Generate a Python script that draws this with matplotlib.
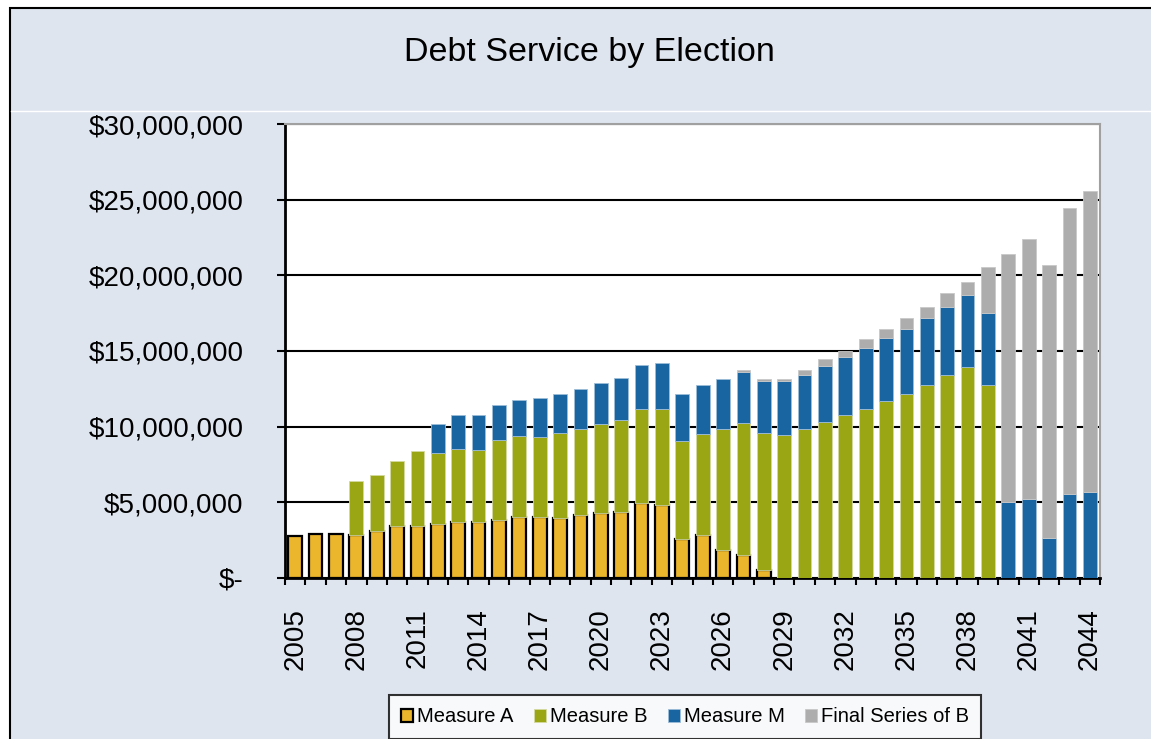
"""Debt Service by Election: stacked annual debt service, 2005-2044."""
import numpy as np
import matplotlib
matplotlib.use("Agg")
import matplotlib.pyplot as plt
from matplotlib.patches import Rectangle
from matplotlib.lines import Line2D
from matplotlib.ticker import FuncFormatter

plt.rcParams["font.family"] = ["Liberation Sans", "DejaVu Sans"]

years = list(range(2005, 2045))

# annual debt service, $ millions
measure_a = [2.78, 2.91, 2.91, 2.84, 3.10, 3.44, 3.44, 3.57, 3.70, 3.70,
             3.85, 4.01, 4.01, 3.98, 4.13, 4.28, 4.38, 4.98, 4.85, 2.56,
             2.82, 1.85, 1.52, 0.53, 0, 0, 0, 0, 0, 0,
             0, 0, 0, 0, 0, 0, 0, 0, 0, 0]
measure_b = [0, 0, 0, 3.57, 3.73, 4.27, 4.98, 4.67, 4.80, 4.76,
             5.27, 5.38, 5.29, 5.60, 5.73, 5.88, 6.04, 6.17, 6.30, 6.51,
             6.70, 8.02, 8.70, 9.03, 9.44, 9.87, 10.30, 10.75, 11.19, 11.72,
             12.16, 12.74, 13.40, 13.97, 12.74, 0, 0, 0, 0, 0]
measure_m = [0, 0, 0, 0, 0, 0, 0, 1.92, 2.25, 2.29,
             2.33, 2.37, 2.60, 2.60, 2.61, 2.75, 2.78, 2.91, 3.04, 3.11,
             3.24, 3.30, 3.40, 3.48, 3.60, 3.57, 3.72, 3.86, 3.99, 4.16,
             4.30, 4.46, 4.53, 4.71, 4.75, 5.00, 5.22, 2.66, 5.53, 5.66]
final_b = [0, 0, 0, 0, 0, 0, 0, 0, 0, 0,
           0, 0, 0, 0, 0, 0, 0, 0, 0, 0,
           0, 0, 0.13, 0.13, 0.13, 0.33, 0.44, 0.41, 0.60, 0.60,
           0.74, 0.73, 0.90, 0.86, 3.05, 16.39, 17.19, 18.01, 18.90, 19.92]

series = [
    ("Measure A", measure_a, "#ebb52c", "black", 1.6),
    ("Measure B", measure_b, "#9aa613", "#d4d9a0", 0.6),
    ("Measure M", measure_m, "#1865a1", "#9dbdd8", 0.6),
    ("Final Series of B", final_b, "#adadad", "#c8c8c8", 0.6),
]

W, H = 1151, 739
BG = "#dfe5ef"

fig = plt.figure(figsize=(W / 100, H / 100), dpi=100, facecolor="white")
fig.add_artist(Rectangle((10 / W, -0.1), 1.2, 1.1 - 8 / H, transform=fig.transFigure,
                         facecolor=BG, edgecolor="black", lw=1.5, zorder=0))
fig.add_artist(Line2D([11 / W, 1], [1 - 111 / H] * 2, transform=fig.transFigure,
                      color="white", lw=1, zorder=1))
fig.text(589 / W, 1 - 52 / H, "Debt Service by Election", ha="center", va="center",
         fontsize=24.5)

ax = fig.add_axes([285 / W, 1 - 578 / H, 815 / W, 454 / H])
ax.set_facecolor("white")
x = np.arange(len(years))
bottom = np.zeros(len(years))
for label, vals, color, edge, lw in series:
    v = np.array(vals) * 1e6
    keep = v > 0
    ax.bar(x[keep], v[keep], 0.68, bottom=bottom[keep], color=color,
           edgecolor=edge, linewidth=lw, label=label, zorder=3)
    bottom += v

ax.set_xlim(-0.5, len(years) - 0.5)
ax.set_ylim(0, 30e6)
ax.set_yticks(np.arange(0, 30e6 + 1, 5e6))
ax.yaxis.set_major_formatter(FuncFormatter(lambda v, _: "$-" if v == 0 else f"${v:,.0f}"))
ax.tick_params(axis="y", length=6, width=1.5, pad=24, labelsize=20)

ax.set_xticks(np.arange(-0.5, len(years), 1), labels=[])
ax.set_xticks(x[::3], labels=[str(y) for y in years[::3]], minor=True)
ax.tick_params(axis="x", which="major", length=5, width=1.5)
ax.tick_params(axis="x", which="minor", length=0, pad=22, labelsize=20, labelrotation=90)

ax.grid(axis="y", color="black", lw=1.5, zorder=1)
ax.set_axisbelow(True)
for side in ("left", "bottom"):
    ax.spines[side].set_linewidth(2)
for side in ("top", "right"):
    ax.spines[side].set_color("#a0a0a0")
    ax.spines[side].set_linewidth(1.5)

leg = fig.legend(loc="center", bbox_to_anchor=(685 / W, 1 - 717 / H), ncol=4,
                 fontsize=14.5, frameon=True, fancybox=False, handlelength=0.6,
                 handleheight=0.6, handletextpad=0.2, columnspacing=1.0,
                 borderpad=0.6, borderaxespad=0)
leg.get_frame().set_edgecolor("black")
leg.get_frame().set_linewidth(1.5)

fig.savefig("out.png", dpi=100, facecolor=fig.get_facecolor())
